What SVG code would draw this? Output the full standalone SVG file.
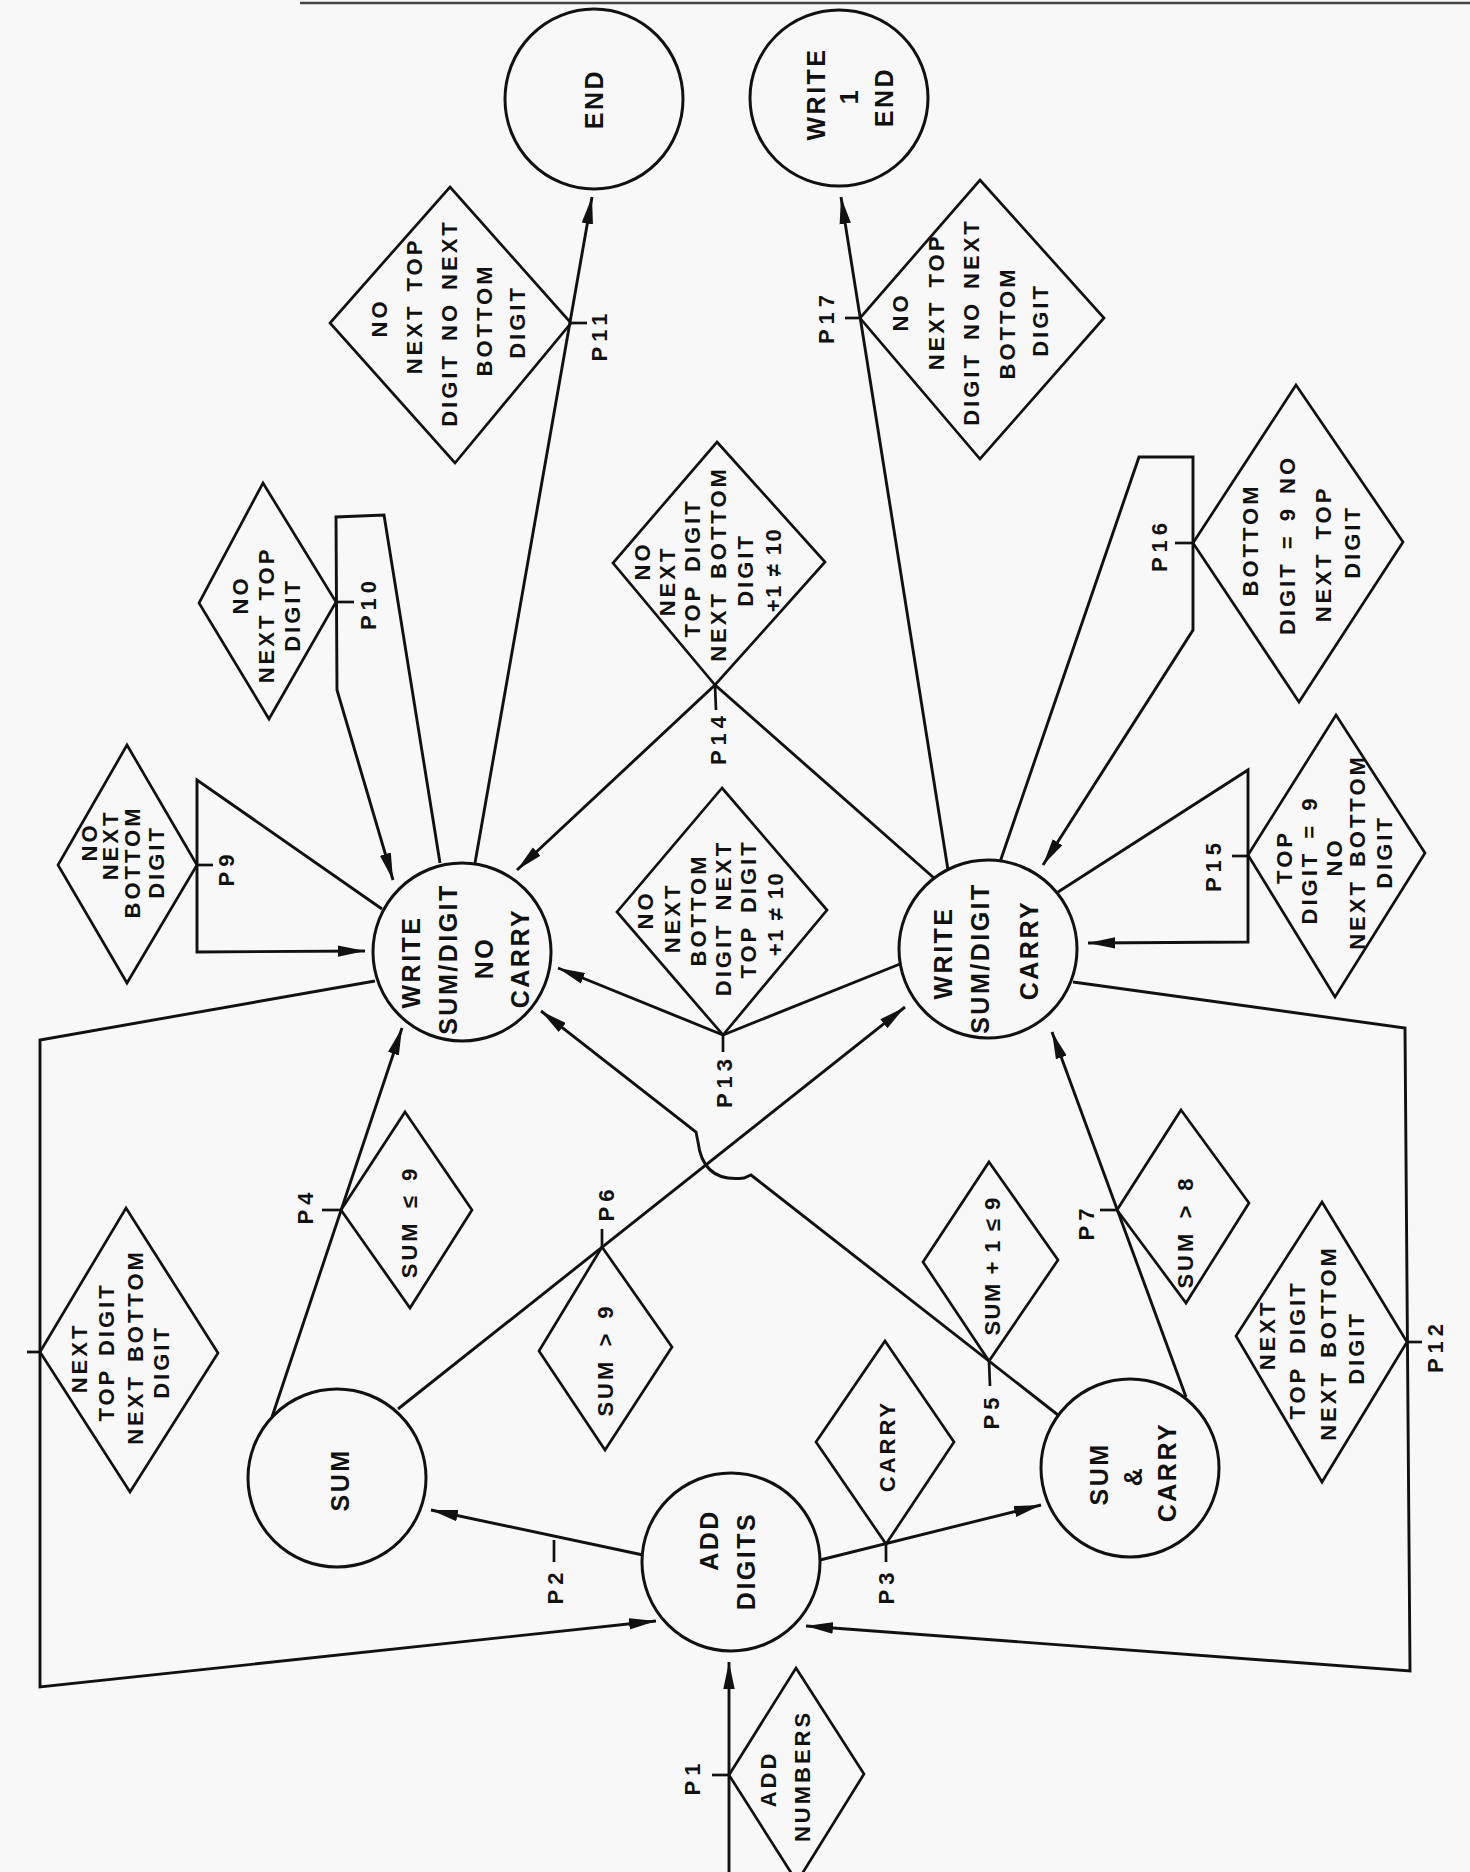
<svg xmlns="http://www.w3.org/2000/svg" width="1470" height="1872" viewBox="0 0 1470 1872">
<defs>
<style>
.bg{fill:#f8f8f8}
.c{fill:none;stroke:#111;stroke-width:3}
.d{fill:none;stroke:#111;stroke-width:2.7;stroke-linejoin:miter}
.ln{fill:none;stroke:#111;stroke-width:2.9;stroke-linejoin:miter}
.tk{fill:none;stroke:#111;stroke-width:2.7}
.t{font-family:"Liberation Sans",Arial,sans-serif;font-weight:bold;font-size:22px;letter-spacing:3px;word-spacing:3px;fill:#111;text-anchor:middle;dominant-baseline:central}
.tc{font-size:25px;letter-spacing:2.5px}
.lb{font-size:22px;letter-spacing:5px}
.tn{letter-spacing:1.5px;word-spacing:0px}
</style>
<marker id="ah" markerUnits="userSpaceOnUse" markerWidth="30" markerHeight="14" refX="27" refY="6" orient="auto">
<path d="M0,0.3 L27,6 L0,11.7 Z" fill="#111"/>
</marker>
<clipPath id="edge"><rect x="12" y="1300" width="40" height="100"/></clipPath>
</defs>
<rect class="bg" x="0" y="0" width="1470" height="1872"/>
<line x1="300" y1="3" x2="1470" y2="3" stroke="#444" stroke-width="2.5"/>

<g id="connectors">
<path class="ln" marker-end="url(#ah)" d="M729 1872 L729 1662"/>
<path class="ln" marker-end="url(#ah)" d="M643 1555 L431 1510"/>
<path class="ln" marker-end="url(#ah)" d="M820 1560 L1041 1505"/>
<path class="ln" marker-end="url(#ah)" d="M272 1417 L402 1028"/>
<path class="ln" marker-end="url(#ah)" d="M398 1409 L905 1007"/>
<path class="ln" marker-end="url(#ah)" d="M1058 1415 L751 1175 L744 1178 Q703 1183 698 1142 L696 1132 L541 1011"/>
<path class="ln" marker-end="url(#ah)" d="M1186 1397 L1052 1032"/>
<path class="ln" marker-end="url(#ah)" d="M375 981 L40 1040 L40 1687 L656 1621"/>
<path class="ln" marker-end="url(#ah)" d="M1073 982 L1405 1028 L1410 1671 L806 1626"/>
<path class="ln" marker-end="url(#ah)" d="M382 909 L197 780 L197 952 L365 951"/>
<path class="ln" marker-end="url(#ah)" d="M440 863 L384 515 L336 517 L337 690 L393 880"/>
<path class="ln" marker-end="url(#ah)" d="M475 863 L592 197"/>
<path class="ln" marker-end="url(#ah)" d="M900 964 L723 1035 L558 968"/>
<path class="ln" marker-end="url(#ah)" d="M934 878 L715 685 L517 870"/>
<path class="ln" marker-end="url(#ah)" d="M1000 862 L1139 457 L1193 457 L1193 630 L1043 865"/>
<path class="ln" marker-end="url(#ah)" d="M1058 892 L1248 770 L1248 942 L1088 943"/>
<path class="ln" marker-end="url(#ah)" d="M948 870 L841 197"/>
</g>

<g id="labels">
<g id="lP1"><line class="tk" x1="712" y1="1775" x2="729" y2="1775"/><text class="t lb" transform="translate(692 1777) rotate(-90)">P1</text></g>
<g id="lP2"><line class="tk" x1="554" y1="1540" x2="554" y2="1562"/><text class="t lb" transform="translate(555 1586) rotate(-90)">P2</text></g>
<g id="lP3"><line class="tk" x1="886" y1="1544" x2="886" y2="1562"/><text class="t lb" transform="translate(886 1586) rotate(-90)">P3</text></g>
<g id="lP4"><line class="tk" x1="322" y1="1210" x2="341" y2="1210"/><text class="t lb" transform="translate(305 1206) rotate(-90)">P4</text></g>
<g id="lP5"><line class="tk" x1="989" y1="1361" x2="990" y2="1386"/><text class="t lb" transform="translate(991 1411) rotate(-90)">P5</text></g>
<g id="lP6"><line class="tk" x1="602" y1="1229" x2="602" y2="1247"/><text class="t lb" transform="translate(606 1203) rotate(-90)">P6</text></g>
<g id="lP7"><line class="tk" x1="1100" y1="1210" x2="1117" y2="1210"/><text class="t lb" transform="translate(1086 1222) rotate(-90)">P7</text></g>
<g id="lP8"><line class="tk" x1="27" y1="1352" x2="40" y2="1352"/><text class="t lb" clip-path="url(#edge)" transform="translate(8 1350) rotate(-90)">P8</text></g>
<g id="lP9"><line class="tk" x1="197" y1="865" x2="213" y2="865"/><text class="t lb" transform="translate(226 868) rotate(-90)">P9</text></g>
<g id="lP10"><line class="tk" x1="336" y1="602" x2="354" y2="602"/><text class="t lb" transform="translate(368 603) rotate(-90)">P10</text></g>
<g id="lP11"><line class="tk" x1="571" y1="323" x2="587" y2="323"/><text class="t lb" transform="translate(599 335) rotate(-90)">P11</text></g>
<g id="lP12"><line class="tk" x1="1407" y1="1342" x2="1422" y2="1342"/><text class="t lb" transform="translate(1435 1346) rotate(-90)">P12</text></g>
<g id="lP13"><line class="tk" x1="723" y1="1035" x2="723" y2="1052"/><text class="t lb" transform="translate(724 1081) rotate(-90)">P13</text></g>
<g id="lP14"><line class="tk" x1="715" y1="685" x2="716" y2="710"/><text class="t lb" transform="translate(718 738) rotate(-90)">P14</text></g>
<g id="lP15"><line class="tk" x1="1232" y1="856" x2="1248" y2="856"/><text class="t lb" transform="translate(1213 865) rotate(-90)">P15</text></g>
<g id="lP16"><line class="tk" x1="1175" y1="543" x2="1193" y2="543"/><text class="t lb" transform="translate(1159 545) rotate(-90)">P16</text></g>
<g id="lP17"><line class="tk" x1="845" y1="318" x2="860" y2="318"/><text class="t lb" transform="translate(826 317) rotate(-90)">P17</text></g>
</g>

<g id="end">
<ellipse class="c" cx="594" cy="99" rx="89" ry="90"/>
<text class="t tc" transform="translate(594 99) rotate(-90)">END</text>
</g>
<g id="write1end">
<ellipse class="c" cx="839" cy="98" rx="89" ry="88"/>
<text class="t tc" transform="translate(816 94) rotate(-90)">WRITE</text>
<text class="t tc" transform="translate(849 96) rotate(-90)">1</text>
<text class="t tc" transform="translate(884 97) rotate(-90)">END</text>
</g>
<g id="writeNoCarry">
<circle class="c" cx="462" cy="952" r="89"/>
<text class="t tc" transform="translate(411 962) rotate(-90)">WRITE</text>
<text class="t tc" transform="translate(448 959) rotate(-90)">SUM/DIGIT</text>
<text class="t tc" transform="translate(484 958) rotate(-90)">NO</text>
<text class="t tc" transform="translate(520 958) rotate(-90)">CARRY</text>
</g>
<g id="writeCarry">
<circle class="c" cx="988" cy="949" r="89"/>
<text class="t tc" transform="translate(943 953) rotate(-90)">WRITE</text>
<text class="t tc" transform="translate(980 958) rotate(-90)">SUM/DIGIT</text>
<text class="t tc" transform="translate(1029 950) rotate(-90)">CARRY</text>
</g>
<g id="sum">
<circle class="c" cx="337" cy="1478" r="89"/>
<text class="t tc" transform="translate(340 1480) rotate(-90)">SUM</text>
</g>
<g id="sumCarry">
<circle class="c" cx="1130" cy="1468" r="89"/>
<text class="t tc" transform="translate(1099 1474) rotate(-90)">SUM</text>
<text class="t tc" transform="translate(1133 1476) rotate(-90)">&amp;</text>
<text class="t tc" transform="translate(1167 1472) rotate(-90)">CARRY</text>
</g>
<g id="addDigits">
<circle class="c" cx="731" cy="1562" r="89"/>
<text class="t tc" transform="translate(709 1540) rotate(-90)">ADD</text>
<text class="t tc" transform="translate(746 1561) rotate(-90)">DIGITS</text>
</g>

<g id="dP1">
<polygon class="d" points="796,1668 864,1774 797,1882 729,1775"/>
<text class="t" transform="translate(768 1779) rotate(-90)">ADD</text>
<text class="t" transform="translate(802 1776) rotate(-90)">NUMBERS</text>
</g>
<g id="dP3">
<polygon class="d" points="885,1341 954,1442 886,1544 816,1442"/>
<text class="t" transform="translate(887 1446) rotate(-90)">CARRY</text>
</g>
<g id="dP4">
<polygon class="d" points="405,1112 472,1210 410,1308 341,1210"/>
<text class="t" transform="translate(409 1222) rotate(-90)">SUM ≤ 9</text>
</g>
<g id="dP6">
<polygon class="d" points="602,1247 672,1347 605,1450 539,1351"/>
<text class="t" transform="translate(605 1360) rotate(-90)">SUM &gt; 9</text>
</g>
<g id="dP5">
<polygon class="d" points="989,1162 1058,1260 989,1361 923,1262"/>
<text class="t tn" transform="translate(992 1266) rotate(-90)">SUM + 1 ≤ 9</text>
</g>
<g id="dP7">
<polygon class="d" points="1181,1110 1249,1203 1186,1303 1117,1210"/>
<text class="t" transform="translate(1185 1232) rotate(-90)">SUM &gt; 8</text>
</g>
<g id="dP8">
<polygon class="d" points="126,1208 218,1353 130,1492 40,1352"/>
<text class="t" transform="translate(79 1358) rotate(-90)">NEXT</text>
<text class="t" transform="translate(106 1352) rotate(-90)">TOP DIGIT</text>
<text class="t" transform="translate(135 1347) rotate(-90)">NEXT BOTTOM</text>
<text class="t" transform="translate(161 1362) rotate(-90)">DIGIT</text>
</g>
<g id="dP12">
<polygon class="d" points="1322,1202 1407,1342 1322,1482 1236,1336"/>
<text class="t" transform="translate(1267 1335) rotate(-90)">NEXT</text>
<text class="t" transform="translate(1297 1350) rotate(-90)">TOP DIGIT</text>
<text class="t" transform="translate(1328 1343) rotate(-90)">NEXT BOTTOM</text>
<text class="t" transform="translate(1356 1348) rotate(-90)">DIGIT</text>
</g>
<g id="dP9">
<polygon class="d" points="127,745 197,865 127,983 58,865"/>
<text class="t" transform="translate(89 842) rotate(-90)">NO</text>
<text class="t" transform="translate(110 845) rotate(-90)">NEXT</text>
<text class="t" transform="translate(132 862) rotate(-90)">BOTTOM</text>
<text class="t" transform="translate(156 862) rotate(-90)">DIGIT</text>
</g>
<g id="dP10">
<polygon class="d" points="263,483 336,602 269,719 199,603"/>
<text class="t" transform="translate(240 595) rotate(-90)">NO</text>
<text class="t" transform="translate(266 615) rotate(-90)">NEXT TOP</text>
<text class="t" transform="translate(292 615) rotate(-90)">DIGIT</text>
</g>
<g id="dP11">
<polygon class="d" points="450,187 571,323 455,463 330,323"/>
<text class="t" transform="translate(379 318) rotate(-90)">NO</text>
<text class="t" transform="translate(414 306) rotate(-90)">NEXT TOP</text>
<text class="t" transform="translate(449 323) rotate(-90)">DIGIT NO NEXT</text>
<text class="t" transform="translate(484 320) rotate(-90)">BOTTOM</text>
<text class="t" transform="translate(517 322) rotate(-90)">DIGIT</text>
</g>
<g id="dP17">
<polygon class="d" points="980,180 1104,318 980,459 860,318"/>
<text class="t" transform="translate(900 312) rotate(-90)">NO</text>
<text class="t" transform="translate(936 302) rotate(-90)">NEXT TOP</text>
<text class="t" transform="translate(971 322) rotate(-90)">DIGIT NO NEXT</text>
<text class="t" transform="translate(1007 323) rotate(-90)">BOTTOM</text>
<text class="t" transform="translate(1040 320) rotate(-90)">DIGIT</text>
</g>
<g id="dP14">
<polygon class="d" points="717,442 825,562 715,685 613,563"/>
<text class="t" transform="translate(642 561) rotate(-90)">NO</text>
<text class="t" transform="translate(667 581) rotate(-90)">NEXT</text>
<text class="t" transform="translate(692 568) rotate(-90)">TOP DIGIT</text>
<text class="t" transform="translate(718 564) rotate(-90)">NEXT BOTTOM</text>
<text class="t" transform="translate(745 570) rotate(-90)">DIGIT</text>
<text class="t tn" transform="translate(773 570) rotate(-90)">+1 ≠ 10</text>
</g>
<g id="dP13">
<polygon class="d" points="722,788 827,910 723,1035 617,912"/>
<text class="t" transform="translate(645 910) rotate(-90)">NO</text>
<text class="t" transform="translate(672 918) rotate(-90)">NEXT</text>
<text class="t" transform="translate(698 910) rotate(-90)">BOTTOM</text>
<text class="t" transform="translate(723 918) rotate(-90)">DIGIT NEXT</text>
<text class="t" transform="translate(748 909) rotate(-90)">TOP DIGIT</text>
<text class="t tn" transform="translate(775 914) rotate(-90)">+1 ≠ 10</text>
</g>
<g id="dP16">
<polygon class="d" points="1296,385 1403,542 1299,702 1193,543"/>
<text class="t" transform="translate(1250 540) rotate(-90)">BOTTOM</text>
<text class="t" transform="translate(1287 545) rotate(-90)">DIGIT = 9 NO</text>
<text class="t" transform="translate(1323 554) rotate(-90)">NEXT TOP</text>
<text class="t" transform="translate(1352 542) rotate(-90)">DIGIT</text>
</g>
<g id="dP15">
<polygon class="d" points="1336,715 1425,853 1335,997 1248,855"/>
<text class="t" transform="translate(1284 857) rotate(-90)">TOP</text>
<text class="t" transform="translate(1309 860) rotate(-90)">DIGIT = 9</text>
<text class="t" transform="translate(1334 857) rotate(-90)">NO</text>
<text class="t" transform="translate(1357 852) rotate(-90)">NEXT BOTTOM</text>
<text class="t" transform="translate(1384 852) rotate(-90)">DIGIT</text>
</g>
</svg>
